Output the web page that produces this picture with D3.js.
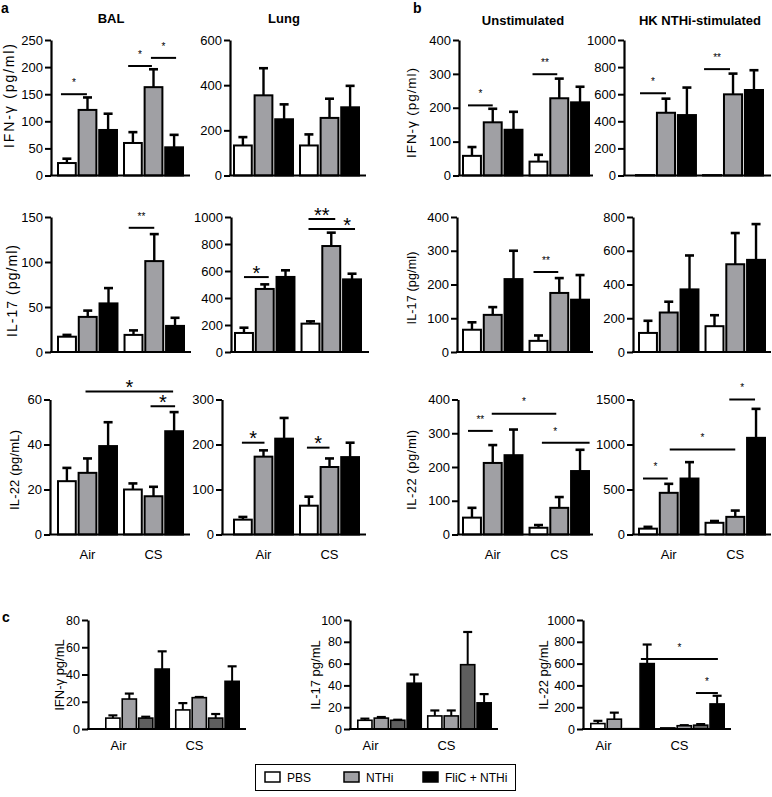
<!DOCTYPE html>
<html><head><meta charset="utf-8">
<script src="https://cdn.jsdelivr.net/npm/d3@7"></script>
<style>
body{margin:0;background:#fff}
svg{display:block}
text{font-family:"Liberation Sans",Arial,Helvetica,sans-serif;fill:#000}
</style>
</head><body>
<svg id="chart" width="772" height="797"></svg>
<script>
// ================= DATA =================
const groups = ["Air", "CS"];
const seriesAB = ["PBS", "NTHi", "FliC + NTHi"];
const seriesC = ["PBS", "NTHi", "FliC", "FliC + NTHi"];
const legendSeries = ["PBS", "NTHi", "FliC + NTHi"];
const titlesA = ["BAL", "Lung"];
const titlesB = ["Unstimulated", "HK NTHi-stimulated"];
const panelLetters = ["a", "b", "c"];

// significance entries: [from bar pos, to bar pos, y value, label, (optional star bar pos)]
// --- a: BAL / Lung ---
const balIfnMean = [23, 121, 84, 60, 163, 52];
const balIfnSem  = [8, 23, 30, 20, 33, 23];
const balIfnTicks = [0, 50, 100, 150, 200, 250];
const balIfnSig = [[0.2, 1.47, 150, "*"], [3.26, 4.42, 202, "*"], [4.37, 5.6, 217, "*"]];

const lungIfnMean = [133, 355, 249, 133, 255, 302];
const lungIfnSem  = [37, 120, 66, 49, 85, 95];
const lungIfnTicks = [0, 200, 400, 600];
const lungIfnSig = [];

const balIl17Mean = [17, 39, 54, 19, 101, 29];
const balIl17Sem  = [2, 7, 17, 5, 30, 9];
const balIl17Ticks = [0, 50, 100, 150];
const balIl17Sig = [[3.26, 4.5, 138, "**"]];

const lungIl17Mean = [141, 467, 556, 210, 785, 538];
const lungIl17Sem  = [39, 34, 49, 17, 99, 42];
const lungIl17Ticks = [0, 200, 400, 600, 800, 1000];
const lungIl17Sig = [[0.5, 1.7, 555, "*"], [3.4, 4.7, 985, "**"], [3.4, 5.65, 911, "*", 5.25]];

const balIl22Mean = [23.7, 27.4, 39.3, 20, 17, 45.9];
const balIl22Sem  = [5.9, 6.4, 10.6, 2.7, 4.2, 8.5];
const balIl22Ticks = [0, 20, 40, 60];
const balIl22Sig = [[1.4, 5.45, 63.6, "*"], [4.35, 5.55, 57, "*"]];

const lungIl22Mean = [33, 173, 213, 64, 150, 172];
const lungIl22Sem  = [6, 14, 46, 20, 19, 32];
const lungIl22Ticks = [0, 100, 200, 300];
const lungIl22Sig = [[0.45, 1.55, 204, "*"], [3.4, 4.5, 193, "*"]];

// --- b: Unstimulated / HK NTHi-stimulated ---
const unIfnMean = [58, 157, 135, 41, 228, 216];
const unIfnSem  = [26, 40, 53, 20, 58, 46];
const unIfnTicks = [0, 100, 200, 300, 400];
const unIfnSig = [[0.3, 1.5, 207, "*"], [3.2, 4.4, 299, "**"]];

const hkIfnMean = [3, 463, 446, 3, 599, 631];
const hkIfnSem  = [0, 104, 203, 0, 153, 146];
const hkIfnTicks = [0, 200, 400, 600, 800, 1000];
const hkIfnSig = [[0.25, 1.5, 607, "*"], [3.1, 4.35, 785, "**"]];

const unIl17Mean = [66, 110, 216, 33, 175, 155];
const unIl17Sem  = [22, 23, 84, 16, 44, 73];
const unIl17Ticks = [0, 100, 200, 300, 400];
const unIl17Sig = [[3.25, 4.45, 237, "**"]];

const hkIl17Mean = [113, 234, 371, 153, 520, 546];
const hkIl17Sem  = [72, 64, 201, 65, 185, 212];
const hkIl17Ticks = [0, 200, 400, 600, 800];
const hkIl17Sig = [];

const unIl22Mean = [50, 212, 235, 20, 79, 188];
const unIl22Sem  = [29, 53, 76, 8, 32, 63];
const unIl22Ticks = [0, 100, 200, 300, 400];
const unIl22Sig = [[0.3, 1.5, 307, "**"], [1.45, 4.35, 358, "*"], [3.67, 5.98, 272, "*", 4.3]];

const hkIl22Mean = [65, 463, 622, 130, 196, 1074];
const hkIl22Sem  = [20, 100, 182, 20, 70, 322];
const hkIl22Ticks = [0, 500, 1000, 1500];
const hkIl22Sig = [[0.25, 1.45, 622, "*"], [1.55, 4.5, 944, "*"], [4.2, 5.45, 1500, "*"]];

// --- c ---
const cIfnMean = [8, 22, 8, 44, 14, 23, 8, 35];
const cIfnSem  = [2, 4, 1, 13, 5, 0.5, 3, 11];
const cIfnTicks = [0, 20, 40, 60, 80];
const cIfnSig = [];

const cIl17Mean = [8, 10, 8, 42, 12, 12, 59, 24];
const cIl17Sem  = [1.5, 1, 0.5, 8, 5, 5, 30, 8];
const cIl17Ticks = [0, 20, 40, 60, 80, 100];
const cIl17Sig = [];

const cIl22Mean = [50, 90, 3, 600, 10, 30, 35, 230];
const cIl22Sem  = [25, 60, 0, 175, 0, 5, 10, 75];
const cIl22Ticks = [0, 200, 400, 600, 800, 1000];
const cIl22Sig = [[3.1, 7.55, 642, "*"], [6.2, 7.55, 330, "*"]];

// ================= LAYOUT / STYLE =================
const colorsAB = ["#ffffff", "#a0a0a4", "#000000"];
const colorsC = ["#ffffff", "#a0a0a4", "#5e5e5e", "#000000"];
const cLabelShift = [-19, -13];
const R1 = {yT: 40, yB: 175.5}, R2 = {yT: 217, yB: 352}, R3 = {yT: 399.5, yB: 534.5}, RC = {yT: 620, yB: 729};

const svg = d3.select("#chart");

const panels = [
  // row 1
  {mean: balIfnMean, sem: balIfnSem, ticks: balIfnTicks, sig: balIfnSig, row: R1, ax: 51, b0: 57, b1: 184, ax1: 190,
   ylab: "IFN-\u03b3 (pg/ml)", ylx: 14, yly: 96, ylfs: 14, yllen: 104, star: "small"},
  {mean: lungIfnMean, sem: lungIfnSem, ticks: lungIfnTicks, sig: lungIfnSig, row: R1, ax: 230, b0: 233, b1: 360, ax1: 366, star: "big"},
  {mean: unIfnMean, sem: unIfnSem, ticks: unIfnTicks, sig: unIfnSig, row: R1, ax: 459, b0: 462, b1: 590, ax1: 593,
   ylab: "IFN-\u03b3 (pg/ml)", ylx: 416, yly: 113, ylfs: 13.5, yllen: 90, star: "small"},
  {mean: hkIfnMean, sem: hkIfnSem, ticks: hkIfnTicks, sig: hkIfnSig, row: R1, ax: 624, b0: 635, b1: 764, ax1: 771, star: "small"},
  // row 2
  {mean: balIl17Mean, sem: balIl17Sem, ticks: balIl17Ticks, sig: balIl17Sig, row: R2, ax: 51, b0: 57, b1: 185, ax1: 191,
   ylab: "IL-17 (pg/ml)", ylx: 17, yly: 291, ylfs: 14, yllen: 92, star: "small"},
  {mean: lungIl17Mean, sem: lungIl17Sem, ticks: lungIl17Ticks, sig: lungIl17Sig, row: R2, ax: 231, b0: 234, b1: 362, ax1: 369, star: "big"},
  {mean: unIl17Mean, sem: unIl17Sem, ticks: unIl17Ticks, sig: unIl17Sig, row: R2, ax: 457, b0: 462, b1: 590, ax1: 593,
   ylab: "IL-17 (pg/ml)", ylx: 416, yly: 288, ylfs: 12.5, yllen: 73, star: "small"},
  {mean: hkIl17Mean, sem: hkIl17Sem, ticks: hkIl17Ticks, sig: hkIl17Sig, row: R2, ax: 633, b0: 638, b1: 766, ax1: 771, star: "small"},
  // row 3
  {mean: balIl22Mean, sem: balIl22Sem, ticks: balIl22Ticks, sig: balIl22Sig, row: R3, ax: 50, b0: 57, b1: 184, ax1: 190,
   ylab: "IL-22 (pg/mL)", ylx: 19, yly: 470, ylfs: 13, yllen: 80, star: "big", xlab: true},
  {mean: lungIl22Mean, sem: lungIl22Sem, ticks: lungIl22Ticks, sig: lungIl22Sig, row: R3, ax: 222, b0: 233, b1: 360, ax1: 366, star: "big", xlab: true},
  {mean: unIl22Mean, sem: unIl22Sem, ticks: unIl22Ticks, sig: unIl22Sig, row: R3, ax: 458, b0: 462, b1: 590, ax1: 593,
   ylab: "IL-22 (pg/ml)", ylx: 416, yly: 470, ylfs: 13, yllen: 80, star: "small", xlab: true},
  {mean: hkIl22Mean, sem: hkIl22Sem, ticks: hkIl22Ticks, sig: hkIl22Sig, row: R3, ax: 633, b0: 638, b1: 766, ax1: 771, star: "small", xlab: true},
  // row c
  {mean: cIfnMean, sem: cIfnSem, ticks: cIfnTicks, sig: cIfnSig, row: RC, ax: 88, b0: 105, b1: 240, ax1: 246, c: true,
   ylab: "IFN-\u03b3 pg/mL", ylx: 64, yly: 675, ylfs: 13, star: "small", xlab: true},
  {mean: cIl17Mean, sem: cIl17Sem, ticks: cIl17Ticks, sig: cIl17Sig, row: RC, ax: 350, b0: 357, b1: 492, ax1: 498, c: true,
   ylab: "IL-17 pg/mL", ylx: 320, yly: 675, ylfs: 13, star: "small", xlab: true},
  {mean: cIl22Mean, sem: cIl22Sem, ticks: cIl22Ticks, sig: cIl22Sig, row: RC, ax: 583, b0: 590, b1: 725, ax1: 731, c: true,
   ylab: "IL-22 pg/mL", ylx: 548, yly: 675, ylfs: 13, star: "small", xlab: true}
];

function drawPanel(p) {
  const g = svg.append("g");
  const series = p.c ? seriesC : seriesAB;
  const colors = p.c ? colorsC : colorsAB;
  const n = series.length;
  const y = d3.scaleLinear().domain([0, d3.max(p.ticks)]).range([p.row.yB, p.row.yT]);
  const gx = d3.scaleBand().domain(groups).range([p.b0, p.b1]).paddingInner(p.c ? 0.07 : 0.076);
  const sx = d3.scaleBand().domain(series).range([0, gx.bandwidth()]).paddingInner(0.04);
  const rows = p.mean.map((m, i) => ({m, e: p.sem[i], grp: groups[Math.floor(i / n)], s: series[i % n], si: i % n}));
  const bx = d => gx(d.grp) + sx(d.s);
  const pos = f => {
    const i = Math.min(Math.floor(f), p.mean.length - 1);
    return gx(groups[Math.floor(i / n)]) + sx(series[i % n]) + (f - i) * sx.bandwidth();
  };
  const sw = p.c ? 1.6 : 2;

  // error bars (upper)
  const eb = rows.filter(d => d.e > 0);
  g.selectAll("line.err").data(eb).join("line")
    .attr("x1", d => bx(d) + sx.bandwidth() / 2).attr("x2", d => bx(d) + sx.bandwidth() / 2)
    .attr("y1", d => y(d.m)).attr("y2", d => y(d.m + d.e))
    .attr("stroke", "#000").attr("stroke-width", sw + 0.4);
  g.selectAll("line.cap").data(eb).join("line")
    .attr("x1", d => bx(d) + sx.bandwidth() / 2 - 4.5).attr("x2", d => bx(d) + sx.bandwidth() / 2 + 4.5)
    .attr("y1", d => y(d.m + d.e)).attr("y2", d => y(d.m + d.e))
    .attr("stroke", "#000").attr("stroke-width", sw + 0.6);

  // bars
  g.selectAll("rect.bar").data(rows).join("rect")
    .attr("x", d => bx(d) + sw / 2).attr("width", sx.bandwidth() - sw)
    .attr("y", d => y(d.m)).attr("height", d => Math.max(0, y(0) - y(d.m)))
    .attr("fill", d => colors[d.si]).attr("stroke", "#000").attr("stroke-width", sw);

  // y axis
  const ya = g.append("g").attr("transform", `translate(${p.ax},0)`)
    .call(d3.axisLeft(y).tickValues(p.ticks).tickFormat(d3.format("d")).tickSize(6).tickSizeOuter(0).tickPadding(2));
  ya.select(".domain").attr("stroke", "#000").attr("stroke-width", 2.2);
  ya.selectAll(".tick line").attr("stroke", "#000").attr("stroke-width", 2);
  ya.selectAll(".tick text").attr("font-size", p.c ? 12.5 : 13).attr("font-family", '"Liberation Sans",Arial,sans-serif').attr("fill", "#000");

  // x axis baseline
  g.append("line").attr("x1", p.ax - 1).attr("x2", p.ax1).attr("y1", y(0)).attr("y2", y(0))
    .attr("stroke", "#000").attr("stroke-width", 2.2);

  // x labels
  if (p.xlab) {
    g.selectAll("text.xl").data(groups).join("text")
      .attr("x", (d, i) => gx(d) + gx.bandwidth() / 2 + (p.c ? cLabelShift[i] : 0))
      .attr("y", y(0) + (p.c ? 21 : 24))
      .attr("text-anchor", "middle").attr("font-size", 13).text(d => d);
  }

  // y label
  if (p.ylab) {
    const t = g.append("text").attr("transform", `translate(${p.ylx},${p.yly}) rotate(-90)`)
      .attr("text-anchor", "middle").attr("font-size", p.ylfs).text(p.ylab);
    if (p.yllen) t.attr("textLength", p.yllen).attr("lengthAdjust", "spacing");
  }

  // significance
  const big = p.star === "big";
  const fs = big ? 20 : 10;
  const gap = big ? 9 : 14;
  p.sig.forEach(s => {
    const x1 = pos(s[0]), x2 = pos(s[1]), yy = y(s[2]);
    const sxp = s.length > 4 ? pos(s[4]) : (x1 + x2) / 2;
    g.append("line").attr("x1", x1).attr("x2", x2).attr("y1", yy).attr("y2", yy)
      .attr("stroke", "#000").attr("stroke-width", 2);
    g.append("text").attr("x", sxp).attr("y", yy - gap + 0.58 * fs)
      .attr("text-anchor", "middle").attr("font-size", fs)
      .attr("fill", big ? "#000" : "#333").text(s[3]);
  });
}

panels.forEach(drawPanel);

// titles
const titleData = [
  {t: titlesA[0], x: 111, y: 23}, {t: titlesA[1], x: 284, y: 23},
  {t: titlesB[0], x: 523, y: 25}, {t: titlesB[1], x: 700, y: 25}
];
svg.selectAll("text.title").data(titleData).join("text")
  .attr("x", d => d.x).attr("y", d => d.y).attr("text-anchor", "middle")
  .attr("font-size", 13).attr("font-weight", "bold").text(d => d.t);

// panel letters
const letterPos = [{x: 1, y: 13}, {x: 413, y: 13}, {x: 2, y: 622}];
svg.selectAll("text.letter").data(panelLetters).join("text")
  .attr("x", (d, i) => letterPos[i].x).attr("y", (d, i) => letterPos[i].y)
  .attr("font-size", 14).attr("font-weight", "bold").text(d => d);

// legend
const lg = svg.append("g");
lg.append("rect").attr("x", 255.5).attr("y", 764.5).attr("width", 260).attr("height", 26)
  .attr("fill", "#fff").attr("stroke", "#000").attr("stroke-width", 1);
const lx = d3.scalePoint().domain(legendSeries).range([265, 423]);
lg.selectAll("rect.sw").data(legendSeries).join("rect")
  .attr("x", d => lx(d)).attr("y", 772).attr("width", 15).attr("height", 10)
  .attr("fill", (d, i) => colorsAB[i]).attr("stroke", "#000").attr("stroke-width", 1.5);
lg.selectAll("text.lt").data(legendSeries).join("text")
  .attr("x", d => lx(d) + 22).attr("y", 781.5).attr("font-size", 12).text(d => d);
</script>
</body></html>
